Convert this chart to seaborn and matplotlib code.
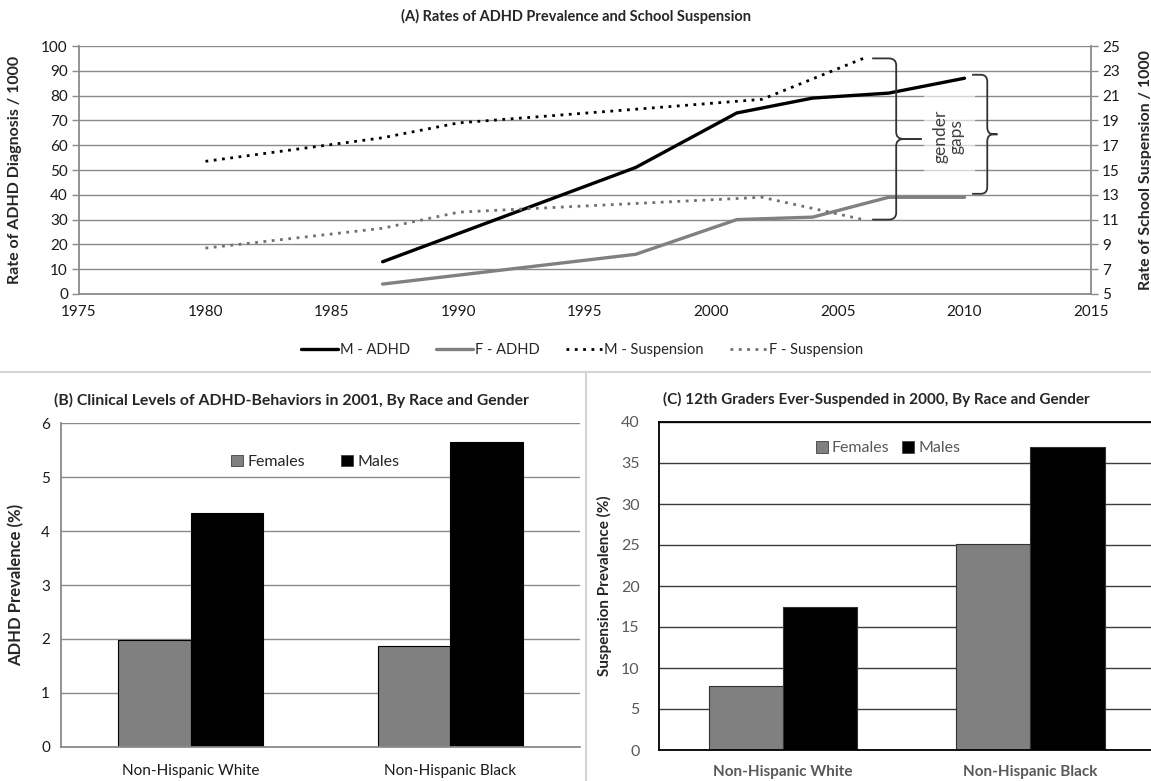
import numpy as np
import pandas as pd
import matplotlib
matplotlib.use("Agg")
import matplotlib.pyplot as plt
from matplotlib.path import Path
from matplotlib.patches import PathPatch, Patch, Rectangle
from matplotlib.lines import Line2D
import seaborn as sns

# ---- Panel A: rates per 1000 ----
adhd_years = [1987, 1997, 2001, 2004, 2007, 2010]
adhd_male = [13, 51, 73, 79, 81, 87]
adhd_female = [4, 16, 30, 31, 39, 39]
susp_years = [1980, 1987, 1990, 1997, 2002, 2006]
susp_male = [15.7, 17.6, 18.8, 19.9, 20.7, 24.0]
susp_female = [8.7, 10.3, 11.6, 12.3, 12.8, 11.0]
year_ticks = list(range(1975, 2016, 5))

# ---- Panels B and C ----
race_groups = ["Non-Hispanic White", "Non-Hispanic Black"]
genders = ["Females", "Males"]
adhd_pct_female = [1.98, 1.87]
adhd_pct_male = [4.33, 5.65]
susp_pct_female = [7.8, 25.1]
susp_pct_male = [17.5, 37.0]

GRAY_BAR = "#808080"
palette = {"Females": GRAY_BAR, "Males": "#000000"}

sns.set_style("white")
plt.rcParams["font.family"] = ["Lato", "DejaVu Sans"]
plt.rcParams["axes.unicode_minus"] = False

W, H = 1151, 781
fig = plt.figure(figsize=(W / 100, H / 100), dpi=100)


def rect(l, t, r, b):
    return [l / W, 1 - b / H, (r - l) / W, (b - t) / H]


def brace(ax, x0, y_top, y_bot, width, tip, cw, r, **kw):
    """Right-facing curly brace in data coordinates."""
    x1 = x0 + width
    ym = (y_top + y_bot) / 2
    verts = [
        (x0, y_top), (x1 - cw, y_top),
        (x1, y_top), (x1, y_top - r),
        (x1, ym + r),
        (x1, ym), (x1 + cw, ym),
        (tip, ym),
        (x1 + cw, ym),
        (x1, ym), (x1, ym - r),
        (x1, y_bot + r),
        (x1, y_bot), (x1 - cw, y_bot),
        (x0, y_bot),
    ]
    codes = [Path.MOVETO, Path.LINETO,
             Path.CURVE3, Path.CURVE3,
             Path.LINETO,
             Path.CURVE3, Path.CURVE3,
             Path.LINETO,
             Path.LINETO,
             Path.CURVE3, Path.CURVE3,
             Path.LINETO,
             Path.CURVE3, Path.CURVE3,
             Path.LINETO]
    ax.add_patch(PathPatch(Path(verts, codes), fill=False, **kw))


# =================== Panel A ===================
axA = fig.add_axes(rect(79, 46, 1091, 294))
ax2 = axA.twinx()

GRID = "#8a8a8a"
TXT = "#1a1a1a"
axA.set_xlim(1975, 2015)
axA.set_ylim(0, 100)
ax2.set_ylim(5, 25)
axA.set_xticks(year_ticks)
axA.set_yticks(range(0, 101, 10))
ax2.set_yticks(range(5, 26, 2))
axA.set_axisbelow(True)
axA.grid(axis="y", color=GRID, lw=1)
axA.grid(axis="x", visible=False)
for a in (axA, ax2):
    for s in a.spines.values():
        s.set_visible(False)
axA.spines["left"].set_visible(True)
axA.spines["bottom"].set_visible(True)
ax2.spines["right"].set_visible(True)
for s in (axA.spines["left"], axA.spines["bottom"], ax2.spines["right"]):
    s.set_color(GRID)
    s.set_linewidth(1.3)
axA.tick_params(axis="both", direction="out", length=5, width=1, color=GRID,
                labelsize=11, labelcolor=TXT, pad=3)
ax2.tick_params(axis="y", direction="out", length=5, width=1, color=GRID,
                labelsize=11, labelcolor=TXT, pad=3)

sns.lineplot(x=adhd_years, y=adhd_male, ax=axA, color="black", lw=2.4)
sns.lineplot(x=adhd_years, y=adhd_female, ax=axA, color=GRAY_BAR, lw=2.4)
dot = (0, (1, 2))
sns.lineplot(x=susp_years, y=susp_male, ax=ax2, color="black", lw=2.0,
             linestyle=dot)
sns.lineplot(x=susp_years, y=susp_female, ax=ax2, color="#707070", lw=2.0,
             linestyle=dot)
axA.set_xlabel("")
axA.set_ylabel("")
ax2.set_ylabel("")

# text box and brackets for the gender gaps
axA.add_patch(Rectangle((2008.4, 48), 2.0, 34, facecolor="white",
                        edgecolor="none", alpha=0.65, zorder=1))
axA.text(2009.35, 63.5, "gender\ngaps", rotation=90, ha="center", va="center",
         fontsize=12.5, color="#404040", linespacing=1.0, zorder=3)
brace(ax2, susp_years[-1] + 0.35, susp_male[-1], susp_female[-1],
      width=0.95, tip=susp_years[-1] + 2.3, cw=0.3, r=0.55,
      edgecolor="#333333", lw=1.3, zorder=4)
brace(axA, adhd_years[-1] + 0.3, adhd_male[-1] + 1.4, adhd_female[-1] + 1.4,
      width=0.6, tip=adhd_years[-1] + 1.3, cw=0.25, r=2.8,
      edgecolor="#333333", lw=1.3, zorder=4)

axA.set_ylabel("Rate of ADHD Diagnosis / 1000", fontsize=11.5,
               fontweight="bold")
axA.yaxis.set_label_coords((22 - 79) / (1091 - 79), 0.5)
ax2.set_ylabel("Rate of School Suspension / 1000", fontsize=11.5,
               fontweight="bold", rotation=90)
ax2.yaxis.set_label_coords((1139 - 79) / (1091 - 79), 0.5)

fig.text(576 / W, 1 - 16 / H, "(A) Rates of ADHD Prevalence and School Suspension",
         ha="center", va="center", fontsize=10.5, fontweight="bold")

handles = [
    Line2D([], [], color="black", lw=2.4),
    Line2D([], [], color=GRAY_BAR, lw=2.4),
    Line2D([], [], color="black", lw=2.0, linestyle=dot),
    Line2D([], [], color="#707070", lw=2.0, linestyle=dot),
]
labels = ["M - ADHD", "F - ADHD", "M - Suspension", "F - Suspension"]
fig.legend(handles, labels, loc="center", bbox_to_anchor=(582 / W, 1 - 350 / H),
           ncol=4, frameon=False, fontsize=10.5, handlelength=2.5,
           handletextpad=0.15, columnspacing=1.8)

# separators between panels
fig.add_artist(Line2D([0, 1], [1 - 372 / H, 1 - 372 / H], transform=fig.transFigure,
                      color="#d4d4d4", lw=1.5))
fig.add_artist(Line2D([586 / W, 586 / W], [0, 1 - 372 / H], transform=fig.transFigure,
                      color="#d4d4d4", lw=1.5))

# =================== Panel B ===================
axB = fig.add_axes(rect(61, 423, 580, 747))
dfB = pd.DataFrame({
    "race": race_groups * 2,
    "gender": [genders[0]] * 2 + [genders[1]] * 2,
    "value": adhd_pct_female + adhd_pct_male,
})
sns.barplot(data=dfB, x="race", y="value", hue="gender", hue_order=genders,
            palette=palette, saturation=1, width=0.56, errorbar=None,
            edgecolor="black", linewidth=0.8, ax=axB, legend=False)
axB.set_xlim(-0.5, 1.5)
axB.set_ylim(0, 6)
axB.set_yticks(range(0, 7))
axB.set_axisbelow(True)
axB.grid(axis="y", color=GRID, lw=1)
for s in axB.spines.values():
    s.set_visible(False)
for k in ("left", "bottom"):
    axB.spines[k].set_visible(True)
    axB.spines[k].set_color(GRID)
    axB.spines[k].set_linewidth(1.3)
axB.set_xticks([-0.5, 0.5, 1.5], minor=True)
axB.tick_params(axis="x", which="major", length=0, labelsize=11,
                labelcolor=TXT, pad=12)
axB.tick_params(axis="x", which="minor", direction="out", length=5, color=GRID)
axB.tick_params(axis="y", direction="out", length=5, color=GRID, labelsize=11,
                labelcolor=TXT, pad=3)
axB.set_xlabel("")
axB.set_ylabel("ADHD Prevalence (%)", fontsize=12, fontweight="bold")
axB.yaxis.set_label_coords((24 - 61) / (580 - 61), 0.5)
axB.set_title("(B) Clinical Levels of ADHD-Behaviors in 2001, By Race and Gender",
              fontsize=11.3, fontweight="bold", pad=13, x=(292 - 61) / (580 - 61))
legB = [Patch(facecolor=palette[g], edgecolor="#404040", lw=0.6) for g in genders]
axB.legend(legB, genders, loc="center", bbox_to_anchor=(0.49, 0.88),
           ncol=2, frameon=False, fontsize=11.5, handlelength=0.75,
           handleheight=0.75, handletextpad=0.25, columnspacing=2.3)

# =================== Panel C ===================
axC = fig.add_axes(rect(659, 422, 1154, 750))
dfC = pd.DataFrame({
    "race": race_groups * 2,
    "gender": [genders[0]] * 2 + [genders[1]] * 2,
    "value": susp_pct_female + susp_pct_male,
})
sns.barplot(data=dfC, x="race", y="value", hue="gender", hue_order=genders,
            palette=palette, saturation=1, width=0.60, errorbar=None,
            edgecolor="#333333", linewidth=0.8, ax=axC, legend=False)
axC.set_xlim(-0.5, 1.5)
axC.set_ylim(0, 40)
axC.set_yticks(range(0, 41, 5))
axC.set_axisbelow(True)
axC.grid(axis="y", color="#3c3c3c", lw=1)
for s in axC.spines.values():
    s.set_color("black")
    s.set_linewidth(1.3)
axC.tick_params(axis="both", length=0, labelsize=11.5, labelcolor="#595959")
axC.tick_params(axis="y", pad=14)
axC.tick_params(axis="x", pad=11)
for t in axC.get_xticklabels():
    t.set_fontweight("bold")
    t.set_fontsize(11)
axC.set_xlabel("")
axC.set_ylabel("Suspension Prevalence (%)", fontsize=11, fontweight="bold")
axC.yaxis.set_label_coords((612 - 659) / (1154 - 659), 0.5)
axC.set_title("(C) 12th Graders Ever-Suspended in 2000, By Race and Gender",
              fontsize=11, fontweight="bold", pad=13, x=(876 - 659) / (1154 - 659))
legC = [Patch(facecolor=palette[g], edgecolor="#404040", lw=0.6) for g in genders]
lc = axC.legend(legC, genders, loc="center", bbox_to_anchor=((888 - 659) / 495, 0.92),
                ncol=2, frameon=False, fontsize=11.5, handlelength=0.75,
                handleheight=0.75, handletextpad=0.25, columnspacing=0.8)
for t in lc.get_texts():
    t.set_color("#595959")

fig.savefig("out.png", dpi=100)
